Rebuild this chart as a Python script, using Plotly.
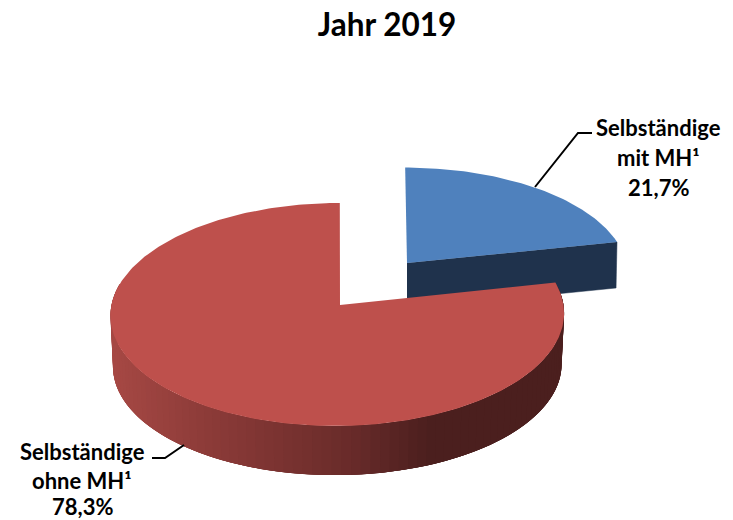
import numpy as np
import plotly.graph_objects as go

# --- data ---
categories = ["Selbständige", "Selbständige"]
qualifiers = ["mit MH¹", "ohne MH¹"]
values = [21.7, 78.3]
title_text = "Jahr 2019"

BLUE_TOP = "#4F81BD"
BLUE_SIDE = "#1F324C"
RED_TOP = "#BE504C"
RED_SIDE_STOPS_X = [113, 200, 350, 430]
RED_SIDE_STOPS_RGB = [(166, 72, 68), (142, 60, 57), (105, 43, 42), (75, 31, 30)]

F = 'Lato, "Open Sans", sans-serif'

def project(theta, cx, cy, rx, ry, k, lean=0.0):
    """Perspective view of a circle: theta is clockwise from the top."""
    u, v = np.sin(theta), np.cos(theta)
    d = 1 + k * v
    return cx + (rx * u + lean * v) / d, cy - ry * v / d

shares = np.array(values) / sum(values) * 2 * np.pi
split = shares[0]

RED_T = dict(cx=337.5, cy=305, rx=226, ry=110.7, k=0.085, lean=2.5)
RED_B = dict(cx=337.5, cy=356, rx=223.5, ry=109, k=0.085, lean=2.5)
RED_APEX_X = 340
BLUE_T = dict(cx=407, cy=263, rx=219, ry=104, k=0.09, lean=-2)
BLUE_B = dict(cx=407, cy=309, rx=218, ry=104, k=0.09, lean=-2)

fig = go.Figure()

def poly(x, y, color, width=0):
    fig.add_trace(go.Scatter(
        x=list(x), y=list(y), mode="lines", fill="toself", fillcolor=color,
        line=dict(color=color, width=width), hoverinfo="skip", showlegend=False))

# exploded blue slice: front cut face, then top
ex0, ey0 = project(split, **BLUE_T)
ex1, ey1 = project(split, **BLUE_B)
poly([BLUE_T["cx"], ex0, ex1, BLUE_B["cx"]],
     [BLUE_T["cy"], ey0, ey1, BLUE_B["cy"]], BLUE_SIDE, 0.5)
th = np.linspace(0, split, 80)
bx, by = project(th, **BLUE_T)
poly(np.r_[BLUE_T["cx"], bx], np.r_[BLUE_T["cy"], by], BLUE_TOP)

# red slice: gradient rim (each band runs under the next, so no seams), then top
edges = np.linspace(split, split + shares[1] * 0.72, 90)
end = edges[-1]
for a, b in zip(edges[:-1], edges[1:]):
    seg = np.linspace(a, min(b + 3 * (b - a), end), 9)
    tx, ty = project(seg, **RED_T)
    lx, ly = project(seg, **RED_B)
    tm, bm = project(np.array([(a + b) / 2]), **RED_T)
    rgb = [np.interp(tm[0], RED_SIDE_STOPS_X, [c[i] for c in RED_SIDE_STOPS_RGB]) for i in range(3)]
    col = "rgb(%d,%d,%d)" % tuple(int(round(c)) for c in rgb)
    poly(np.r_[tx, lx[::-1]], np.r_[ty, ly[::-1]], col, 0)
th = np.linspace(split, 2 * np.pi, 300)
rx_, ry_ = project(th, **RED_T)
poly(np.r_[RED_APEX_X, rx_], np.r_[RED_T["cy"], ry_], RED_TOP)

# leader lines
for lx, ly in [([535, 578, 592], [187, 133, 133]), ([152, 165, 184], [458, 458, 445])]:
    fig.add_trace(go.Scatter(x=lx, y=ly, mode="lines", line=dict(color="black", width=2),
                             hoverinfo="skip", showlegend=False))

# labels
def pct(v):
    return f"{v:.1f}".replace(".", ",") + "%"

label_pos = [(658, [127, 157, 187]), (82, [451, 480, 506])]
for i, (lxx, ys) in enumerate(label_pos):
    lines = [categories[i], qualifiers[i], pct(values[i])]
    for t, yy in zip(lines, ys):
        fig.add_annotation(x=lxx, y=yy, text=f"<b>{t}</b>", showarrow=False, xref="x", yref="y",
                           xanchor="center", yanchor="middle",
                           font=dict(family=F, size=22, color="black"))

fig.update_layout(
    title=dict(text=f"<b>{title_text}</b>", x=387 / 733, y=1 - 25 / 520, xanchor="center",
               yanchor="middle", font=dict(family=F, size=31.5, color="black")),
    width=733, height=520, margin=dict(l=0, r=0, t=0, b=0),
    paper_bgcolor="white", plot_bgcolor="white", showlegend=False,
    xaxis=dict(range=[0, 733], visible=False, fixedrange=True),
    yaxis=dict(range=[520, 0], visible=False, fixedrange=True),
)
fig.write_html("out.html", config=dict(displayModeBar=False),
               post_script="document.body.style.margin='0';")
